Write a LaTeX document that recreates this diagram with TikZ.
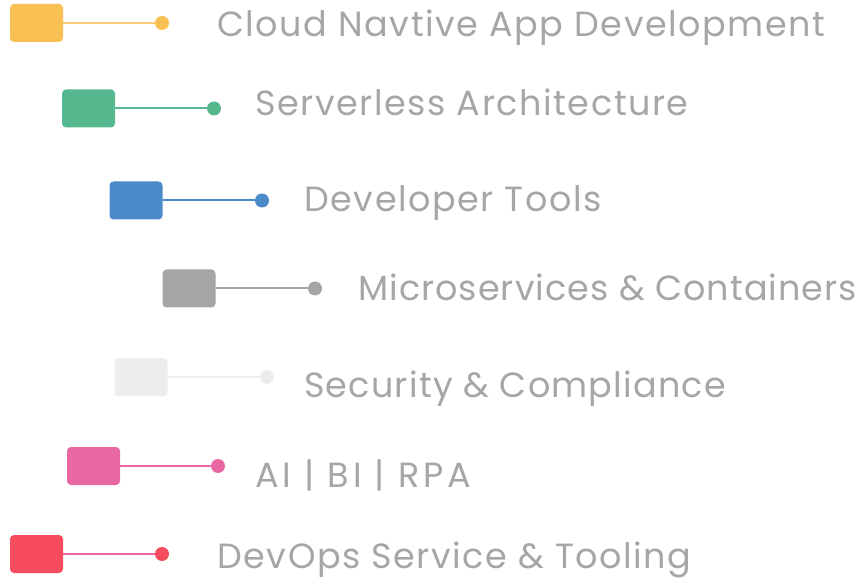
\documentclass[tikz,border=0pt]{standalone}
\usepackage{fontspec}
\setmainfont{Poppins}[LetterSpace=4.5]
\definecolor{cyel}{HTML}{F9C153}
\definecolor{cgrn}{HTML}{56B88F}
\definecolor{cblu}{HTML}{4A8AC9}
\definecolor{cgry}{HTML}{A5A5A5}
\definecolor{clgt}{HTML}{EDEDED}
\definecolor{cpnk}{HTML}{E968A1}
\definecolor{cred}{HTML}{F74B5E}
\definecolor{ctxt}{HTML}{A6A6A6}
\begin{document}
\begin{tikzpicture}[x=1pt,y=-1pt,
  tag/.style={draw=none,fill=#1,rounded corners=4pt,minimum width=53pt,minimum height=38pt,inner sep=0pt},
  pin/.style={circle,fill=#1,minimum size=14pt,inner sep=0pt},
  link/.style={draw=#1,line width=2pt},
  lbl/.style={anchor=base west,inner sep=0pt,text=ctxt,font=\fontsize{35}{40}\selectfont}]
\useasboundingbox (0,0) rectangle (863,580);
% row 1
\node[tag=cyel] (b1) at (36.5,23) {};
\node[pin=cyel] (d1) at (162,23) {};
\draw[link=cyel!80] (b1.east) -- (d1);
\node[lbl] (t1) at (217,37) {Cloud Navtive App Development};
% row 2
\node[tag=cgrn] (b2) at (88.5,108.5) {};
\node[pin=cgrn] (d2) at (214,108.5) {};
\draw[link=cgrn] (b2.east) -- (d2);
\node[lbl] (t2) at (255,116) {Serverless Architecture};
% row 3
\node[tag=cblu] (b3) at (136,200.5) {};
\node[pin=cblu] (d3) at (262,200.5) {};
\draw[link=cblu] (b3.east) -- (d3);
\node[lbl] (t3) at (304,212) {Developer Tools};
% row 4
\node[tag=cgry] (b4) at (189,288.5) {};
\node[pin=cgry] (d4) at (315,288.5) {};
\draw[link=cgry] (b4.east) -- (d4);
\node[lbl] (t4) at (358,301) {\addfontfeature{LetterSpace=3}Microservices \& Containers};
% row 5
\node[tag=clgt] (b5) at (141,377) {};
\node[pin=clgt] (d5) at (267,377) {};
\draw[link=clgt] (b5.east) -- (d5);
\node[lbl] (t5) at (304,397) {\addfontfeature{LetterSpace=3.5}Security \& Compliance};
% row 6
\node[tag=cpnk] (b6) at (93.5,466) {};
\node[pin=cpnk] (d6) at (218,466) {};
\draw[link=cpnk] (b6.east) -- (d6);
\node[lbl] (t6) at (255,487) {\addfontfeature{LetterSpace=11}AI | BI | RPA};
% row 7
\node[tag=cred] (b7) at (36.5,554) {};
\node[pin=cred] (d7) at (162,554) {};
\draw[link=cpnk] (b7.east) -- (d7);
\node[lbl] (t7) at (217,568) {DevOps Service \& Tooling};
\end{tikzpicture}
\end{document}
